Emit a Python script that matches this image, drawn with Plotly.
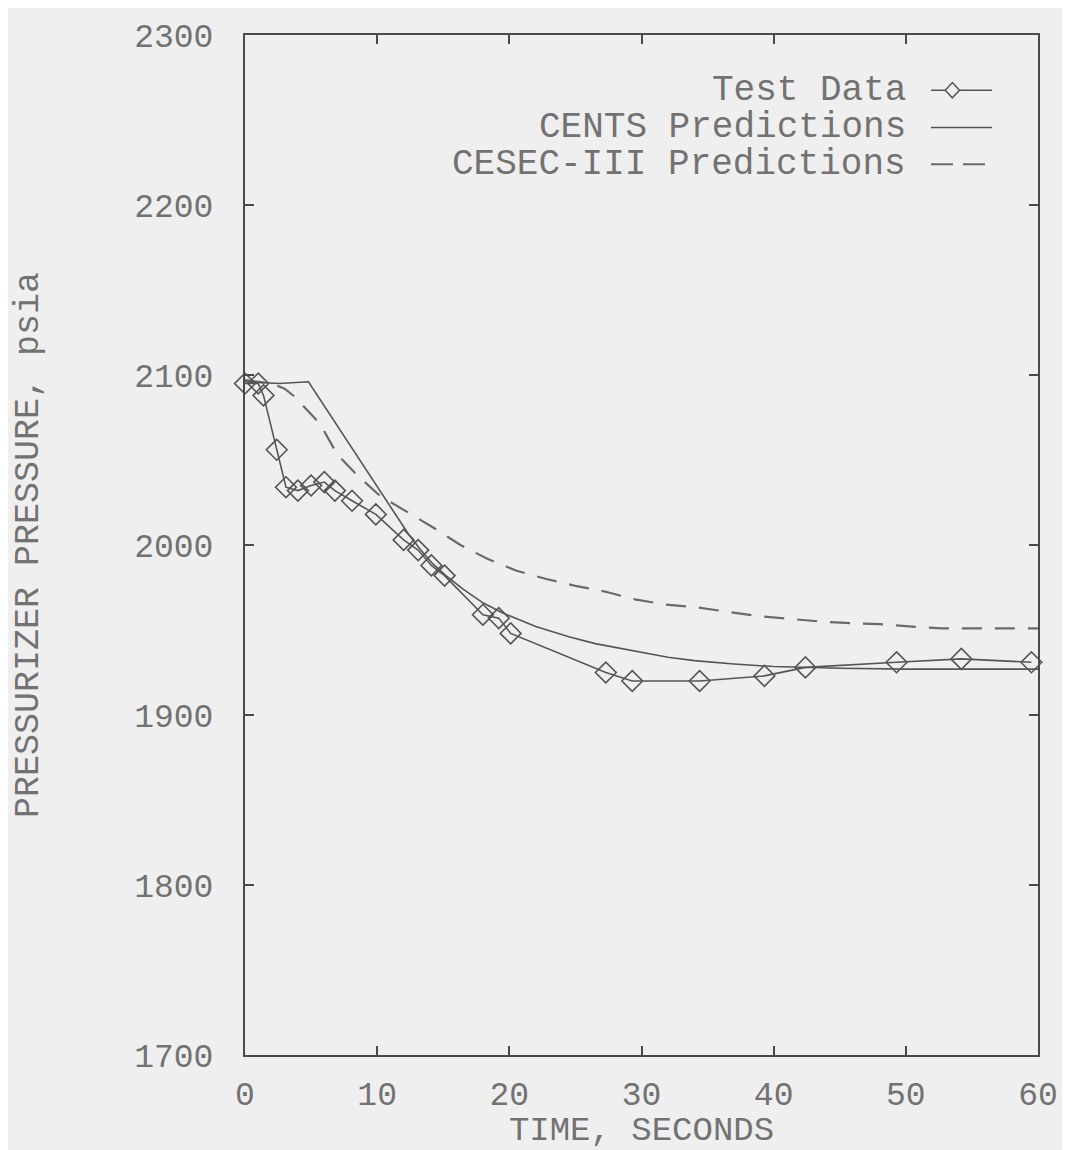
import plotly.graph_objects as go

# Test data (time s, pressure psia)
test_t = [0.0, 1.0, 1.4, 2.4, 3.1, 4.0, 5.0, 6.0, 6.8, 8.1, 9.9, 12.0, 13.1, 14.1, 15.1,
          18.0, 19.2, 20.1, 27.3, 29.3, 34.4, 39.3, 42.4, 49.3, 54.2, 59.5]
test_p = [2095, 2095, 2088, 2056, 2034, 2032, 2035, 2037, 2032, 2026, 2018, 2003, 1997, 1988, 1982,
          1959, 1957, 1948, 1925, 1920, 1920, 1923, 1928, 1931, 1933, 1931]

# CENTS predictions
cents_t = [0.0, 2.6, 4.8, 12.4, 13.3, 14.2, 15.2, 16.5, 18.0, 19.5, 22.0, 24.5, 26.5, 28.5,
           30.0, 32.0, 34.0, 37.0, 40.0, 45.0, 50.0, 60.0]
cents_p = [2096, 2095, 2096, 2006, 1997, 1989, 1982, 1974, 1966, 1960, 1952, 1946, 1942, 1939,
           1937, 1934, 1932, 1930, 1928.5, 1927.5, 1927, 1927]

# CESEC-III predictions
cesec_t = [0.0, 2.0, 3.0, 3.8, 5.7, 7.0, 8.5, 10.2, 11.5, 14.3, 16.3, 18.3, 20.5, 22.8, 25.0,
           27.3, 29.5, 31.8, 34.0, 36.3, 39.0, 41.3, 43.5, 45.8, 48.0, 50.5, 52.7, 55.0, 57.2, 60.0]
cesec_p = [2097, 2095, 2092, 2087, 2071, 2053, 2041, 2029, 2023, 2010, 2000, 1992, 1985, 1980, 1976,
           1972.5, 1968, 1965, 1963.5, 1961, 1958, 1956.5, 1955, 1954, 1953.5, 1952, 1951, 1951, 1951, 1951]

x_ticks = [0, 10, 20, 30, 40, 50, 60]
y_ticks = [1700, 1800, 1900, 2000, 2100, 2200, 2300]
legend_labels = ["Test Data", "CENTS Predictions", "CESEC-III Predictions"]

FONT = "Liberation Mono, Courier New, monospace"
LINE = "#555555"
TXT = "#727272"
BG = "#efefef"

fig = go.Figure()
fig.add_trace(go.Scatter(x=cesec_t, y=cesec_p, mode="lines", name=legend_labels[2],
                         line=dict(color="#6a6a6a", width=2.2, dash="20px,13px"), showlegend=False))
fig.add_trace(go.Scatter(x=cents_t, y=cents_p, mode="lines", name=legend_labels[1],
                         line=dict(color=LINE, width=1.6), showlegend=False))
fig.add_trace(go.Scatter(x=test_t, y=test_p, mode="lines+markers", name=legend_labels[0],
                         line=dict(color=LINE, width=1.6),
                         marker=dict(symbol="diamond-open", size=16, color=LINE, line=dict(width=1.6, color=LINE)),
                         showlegend=False, cliponaxis=False))

axis_common = dict(showgrid=False, zeroline=False, showline=True, linecolor="#4a4a4a", linewidth=2,
                   mirror="ticks", ticks="inside", ticklen=9, tickwidth=1.5, tickcolor="#4a4a4a",
                   tickfont=dict(family=FONT, size=33, color=TXT))

fig.update_xaxes(range=[0, 60], tickvals=x_ticks, ticktext=[str(v) for v in x_ticks],
                 ticklabelstandoff=8,
                 title=dict(text="TIME, SECONDS", font=dict(family=FONT, size=34, color=TXT), standoff=0),
                 **axis_common)
fig.update_yaxes(range=[1700, 2300], tickvals=y_ticks, ticktext=[str(v) for v in y_ticks],
                 ticklabelstandoff=23,
                 title=dict(text="PRESSURIZER PRESSURE, psia", font=dict(family=FONT, size=35, color=TXT), standoff=85),
                 **axis_common)

# Legend drawn as right-aligned text with sample marks to the right
leg_y = [0.9459, 0.9092, 0.8734]
for lbl, yy in zip(legend_labels, leg_y):
    fig.add_annotation(x=0.836, y=yy, xref="paper", yref="paper", text=lbl, showarrow=False,
                       xanchor="right", yanchor="middle", font=dict(family=FONT, size=36, color=TXT))
# sample marks
fig.add_shape(type="line", xref="paper", yref="paper", x0=0.865, x1=0.942, y0=leg_y[0], y1=leg_y[0],
              line=dict(color=LINE, width=1.5))
fig.add_shape(type="path", xref="paper", yref="paper",
              path="M 0.892 %f L 0.901 %f L 0.892 %f L 0.883 %f Z" % (leg_y[0] + 0.0075, leg_y[0], leg_y[0] - 0.0075, leg_y[0]),
              line=dict(color=LINE, width=1.5), fillcolor=BG)
fig.add_shape(type="line", xref="paper", yref="paper", x0=0.865, x1=0.942, y0=leg_y[1], y1=leg_y[1],
              line=dict(color=LINE, width=1.5))
fig.add_shape(type="line", xref="paper", yref="paper", x0=0.865, x1=0.942, y0=leg_y[2], y1=leg_y[2],
              line=dict(color="#6a6a6a", width=2, dash="22px,10px"))

fig.update_layout(width=1062, height=1142, margin=dict(l=237, r=26, t=16, b=91),
                  paper_bgcolor=BG, plot_bgcolor=BG, showlegend=False)

fig.write_html("out.html")
